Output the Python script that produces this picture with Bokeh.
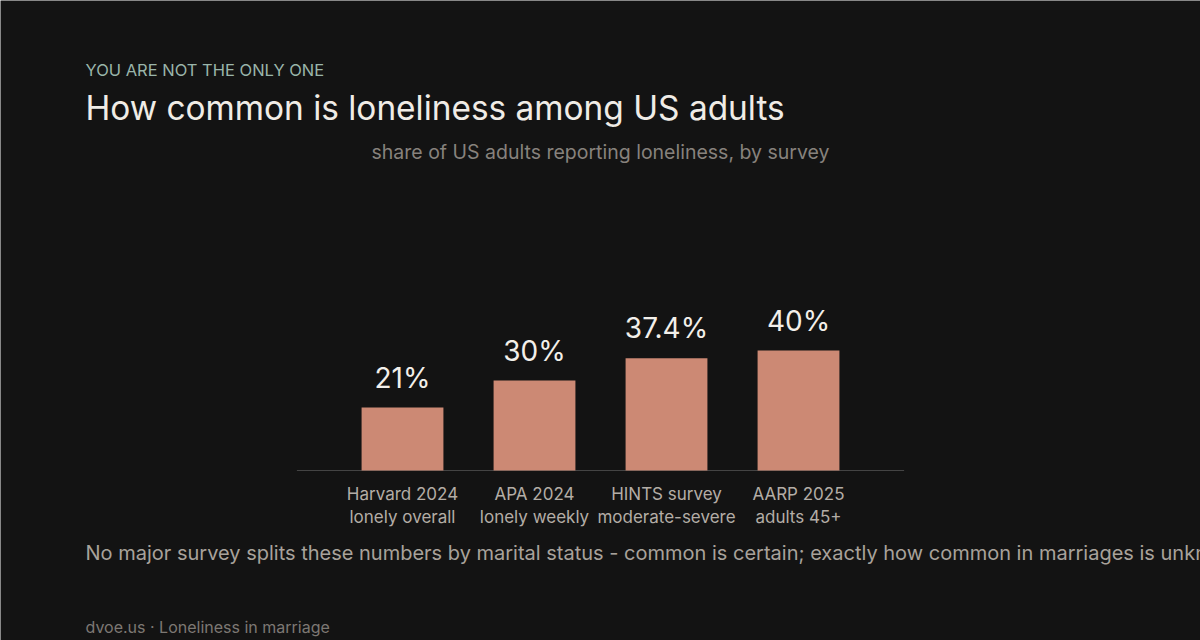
from bokeh.plotting import figure
from bokeh.models import ColumnDataSource, FactorRange, Range1d, LabelSet, Label
from bokeh.core.properties import value
from bokeh.embed import file_html
from bokeh.resources import INLINE

categories = ["Harvard 2024\nlonely overall", "APA 2024\nlonely weekly",
              "HINTS survey\nmoderate-severe", "AARP 2025\nadults 45+"]
values = [21, 30, 37.4, 40]
value_labels = ["21%", "30%", "37.4%", "40%"]

eyebrow = "YOU ARE NOT THE ONLY ONE"
title = "How common is loneliness among US adults"
subtitle = "share of US adults reporting loneliness, by survey"
note = ("No major survey splits these numbers by marital status - common is certain; "
        "exactly how common in marriages is unknown.")
source = "dvoe.us · Loneliness in marriage"

BG = "#131313"
FONT = "Inter"
W, H = 1200, 640

src = ColumnDataSource(dict(cat=categories, val=values, lab=value_labels,
                            zero=[0] * len(values)))

# frame spans the whole canvas; one category step = 132 px, 3 px per percentage point
p = figure(width=W, height=H,
           x_range=FactorRange(*categories, range_padding=(W / 132 - 4) / 4),
           y_range=Range1d(-170 / 3, 470 / 3),
           output_backend="svg", toolbar_location=None,
           min_border=0, min_border_left=0, min_border_right=0,
           min_border_top=0, min_border_bottom=0)
p.background_fill_color = BG
p.border_fill_color = BG
p.outline_line_color = None
p.grid.visible = False
p.axis.visible = False

# baseline
p.segment(x0=[(categories[0], -0.8)], x1=[(categories[-1], 0.8)], y0=[0], y1=[0],
          line_color="#444444", line_width=1)

p.vbar(x="cat", top="val", width=0.62, source=src, color="#cc8974", line_color=None)
p.add_layout(LabelSet(x="cat", y="val", text="lab", source=src, text_align="center",
                      y_offset=13, text_color="#f2efea", text_font_size="28px",
                      text_font=value(FONT)))

# category labels (two lines)
p.text(x="cat", y="zero", text="cat", source=src, text_align="center",
       text_baseline="middle", y_offset=35, text_line_height=1.15,
       text_font=value(FONT), text_font_size="17px", text_color="#b3ada6")


def put(txt, x, y_top, size, color, align="left"):
    p.add_layout(Label(x=x, y=H - y_top, x_units="screen", y_units="screen", text=txt,
                       text_font=FONT, text_font_size=size, text_color=color,
                       text_baseline="middle", text_align=align))


put(eyebrow, 85, 69, "16.5px", "#9ab5aa")
put(title, 85, 107, "33.4px", "#f0ece6")
put(subtitle, 600, 151, "19.5px", "#87827d", align="center")
put(note, 85, 552, "20px", "#a8a29b")
put(source, 85, 626, "16px", "#7d7873")

open("out.html", "w").write(file_html(p, INLINE))
